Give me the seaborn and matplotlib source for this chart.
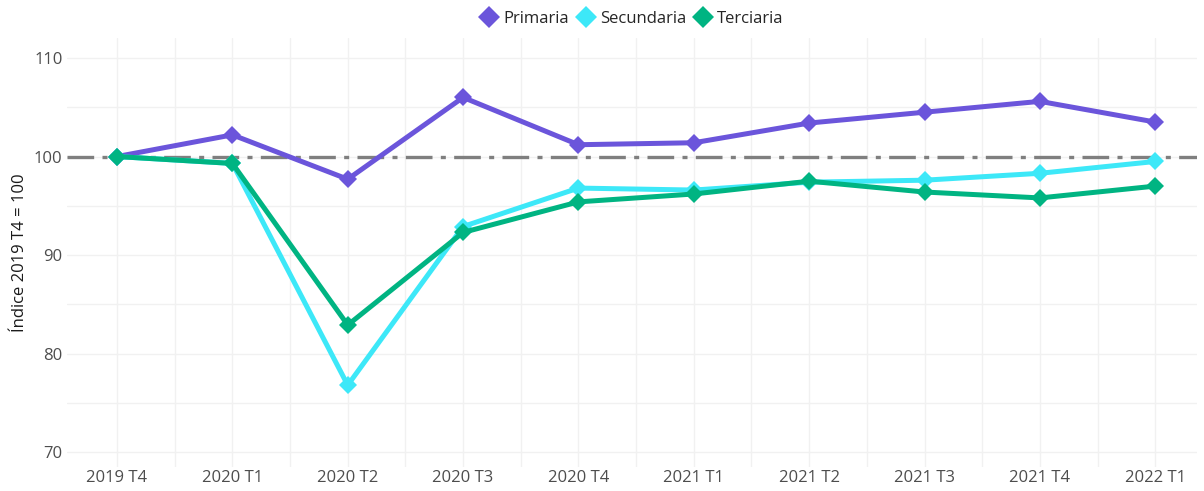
import seaborn as sns
import matplotlib.pyplot as plt
from matplotlib.ticker import MultipleLocator
import pandas as pd

periodos = ['2019 T4', '2020 T1', '2020 T2', '2020 T3', '2020 T4',
            '2021 T1', '2021 T2', '2021 T3', '2021 T4', '2022 T1']
primaria = [100, 102.2, 97.7, 106.0, 101.2, 101.4, 103.4, 104.5, 105.6, 103.5]
secundaria = [100, 99.3, 76.8, 92.9, 96.8, 96.6, 97.4, 97.6, 98.3, 99.5]
terciaria = [100, 99.3, 82.9, 92.3, 95.4, 96.2, 97.5, 96.4, 95.8, 97.0]
sectores = ['Primaria', 'Secundaria', 'Terciaria']
colores = ['#6B55DB', '#3DE8F8', '#00B482']

df = pd.DataFrame({
    'periodo': periodos * 3,
    'pos': list(range(len(periodos))) * 3,
    'indice': primaria + secundaria + terciaria,
    'sector': [s for s in sectores for _ in periodos],
})

sns.set_style('white')
plt.rcParams['font.family'] = ['Open Sans', 'DejaVu Sans']

fig = plt.figure(figsize=(12.04, 4.91), dpi=100)
ax = fig.add_axes([0.056, 0.049, 0.938, 0.873])

ax.axhline(100, color='#7f7f7f', lw=2.4, ls=(0, (8, 2.5, 1.5, 2.5)), zorder=1)
sns.lineplot(data=df, x='pos', y='indice', hue='sector', palette=colores,
             style='sector', markers=['D', 'D', 'D'], dashes=False,
             markersize=9, markeredgewidth=0, linewidth=3.6, ax=ax, zorder=3)

ax.set_xlim(-0.43, 9.36)
ax.set_ylim(68.5, 112.0)
ax.set_xticks(range(len(periodos)))
ax.set_xticklabels(periodos)
ax.xaxis.set_minor_locator(MultipleLocator(0.5))
ax.yaxis.set_major_locator(MultipleLocator(10))
ax.yaxis.set_minor_locator(MultipleLocator(5))
ax.grid(True, which='both', color='#f1f1f1', lw=1)
ax.set_axisbelow(True)
for s in ax.spines.values():
    s.set_visible(False)
ax.tick_params(axis='both', which='both', length=0, labelsize=12, colors='#4d4d4d')
ax.tick_params(axis='x', pad=2)
ax.set_xlabel('')
ax.set_ylabel('Índice 2019 T4 = 100', fontsize=12, color='#1a1a1a')

ax.legend(loc='lower center', bbox_to_anchor=(0.5, 1.0), ncol=3, frameon=False,
          fontsize=12, handlelength=1.0, handletextpad=0.35, columnspacing=0.5,
          borderaxespad=0.3)
for h in ax.get_legend().legend_handles:
    h.set_linestyle('')
    h.set_markersize(11)

fig.savefig('out.png', dpi=100)
